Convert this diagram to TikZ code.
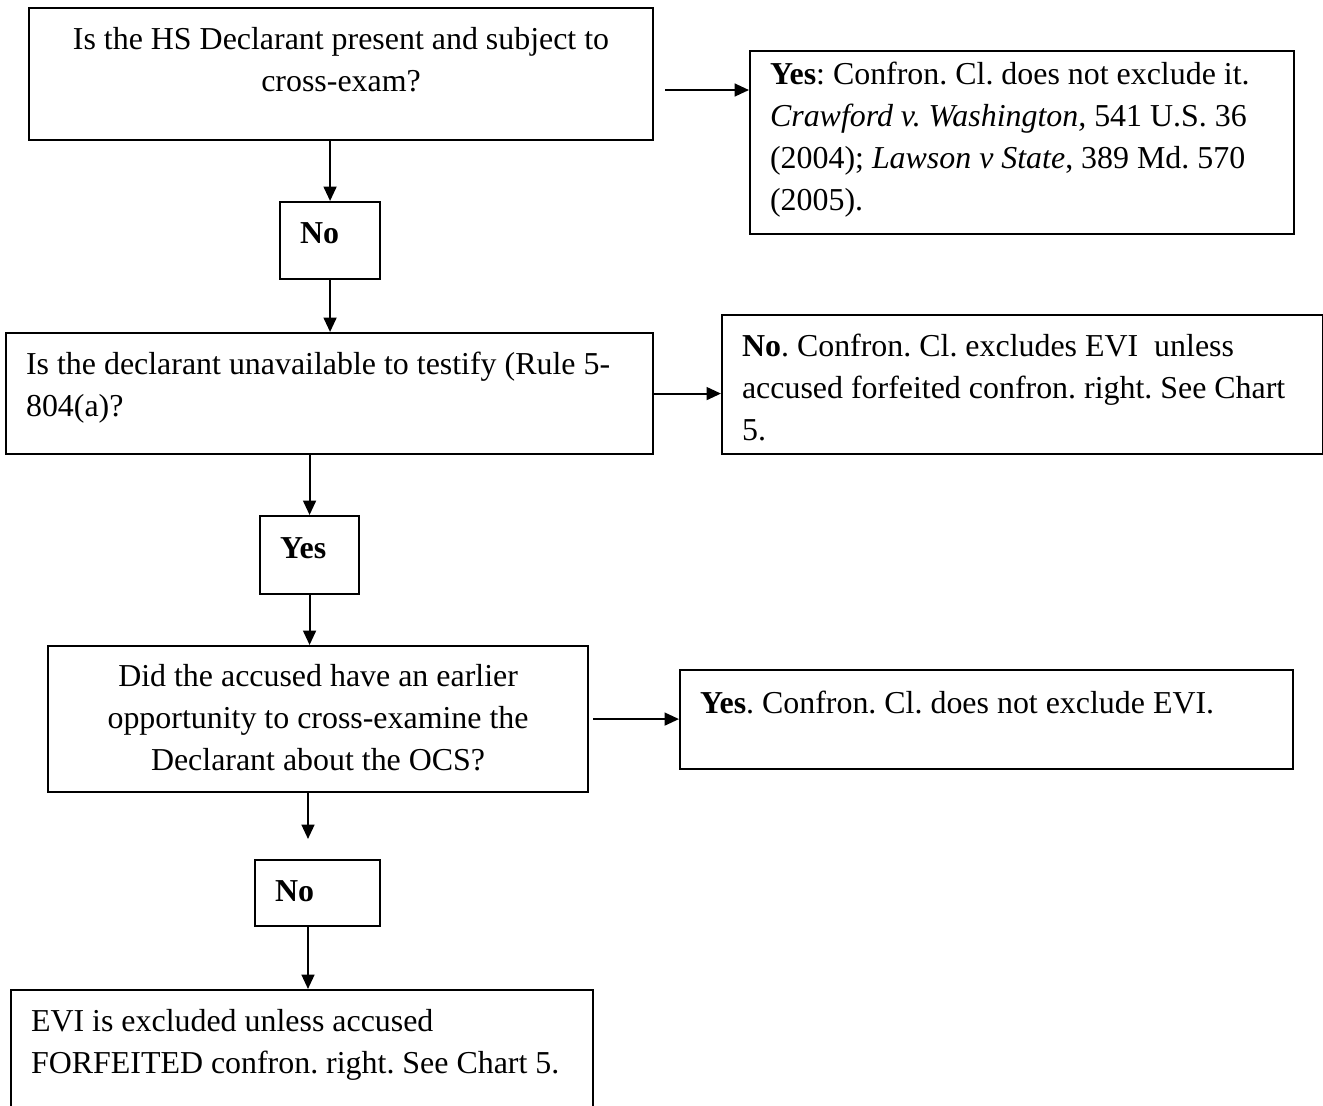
\documentclass[tikz,border=0pt]{standalone}
\usepackage{fontspec}
\setmainfont{Liberation Serif}
\usepackage{tikz}
\usetikzlibrary{arrows.meta}
\newlength\px
\setlength\px{0.376pt}
% width, height, alignment, first baseline, text
\newcommand{\boxtxt}[5]{\parbox[t][#2\px][t]{#1\px}{\frenchspacing#3\rule{0pt}{#4\px}\ignorespaces#5}}
\tikzset{
  box/.style={draw, line width=0.8pt, anchor=north west, inner xsep=7.52pt, inner ysep=0pt,
    font=\fontsize{12pt}{15.87pt}\selectfont},
  arr/.style={-{Triangle[length=5.4pt,width=4.8pt]}, line width=0.8pt}
}
\begin{document}
\begin{tikzpicture}[x=0.376pt,y=-0.376pt]
\useasboundingbox (0,0) rectangle (1323,1105);
\node[box] (qa) at (28,7) {\boxtxt{584}{132}{\centering}{41}{Is the HS Declarant present and subject to\\ cross-exam?}};
\node[box] (qb) at (749,50) {\boxtxt{504}{183}{\raggedright}{33}{\textbf{Yes}: Confron. Cl. does not exclude it.\\ \textit{Crawford v. Washington,} 541 U.S. 36\\ (2004); \textit{Lawson v State}, 389 Md. 570\\ (2005).}};
\node[box] (no1) at (279,201) {\boxtxt{60}{77}{\raggedright}{41}{\textbf{No}}};
\node[box] (qc) at (5,332) {\boxtxt{607}{121}{\raggedright}{41}{Is the declarant unavailable to testify (Rule 5-\\ 804(a)?}};
\node[box] (qf) at (721,314) {\boxtxt{561}{139}{\raggedright}{41}{\textbf{No}. Confron. Cl. excludes EVI\ \ unless\\ accused forfeited confron. right. See Chart\\ 5.}};
\node[box] (yes) at (259,515) {\boxtxt{59}{78}{\raggedright}{42}{\textbf{Yes}}};
\node[box] (qd) at (47,645) {\boxtxt{500}{146}{\centering}{40}{Did the accused have an earlier\\ opportunity to cross-examine the\\ Declarant about the OCS?}};
\node[box] (qg) at (679,669) {\boxtxt{573}{99}{\raggedright}{43}{\textbf{Yes}. Confron. Cl. does not exclude EVI.}};
\node[box] (no2) at (254,859) {\boxtxt{85}{66}{\raggedright}{41}{\textbf{No}}};
\node[box] (qe) at (10,989) {\boxtxt{542}{130}{\raggedright}{41}{EVI is excluded unless accused\\ FORFEITED confron. right. See Chart 5.}};
% connectors
\coordinate (aout) at (665,90);
\coordinate (dstop) at (308,839);
\draw[arr] (aout) -- (aout -| qb.west);
\draw[arr] (no1.north |- qa.south) -- (no1.north);
\draw[arr] (no1.south) -- (no1.south |- qc.north);
\draw[arr] (qc.east) -- (qc.east -| qf.west);
\draw[arr] (yes.north |- qc.south) -- (yes.north);
\draw[arr] (yes.south) -- (yes.south |- qd.north);
\draw[arr] ([xshift=1.5pt]qd.east) -- (qd.east -| qg.west);
\draw[arr] (dstop |- qd.south) -- (dstop);
\draw[arr] (dstop |- no2.south) -- (dstop |- qe.north);
\end{tikzpicture}
\end{document}
